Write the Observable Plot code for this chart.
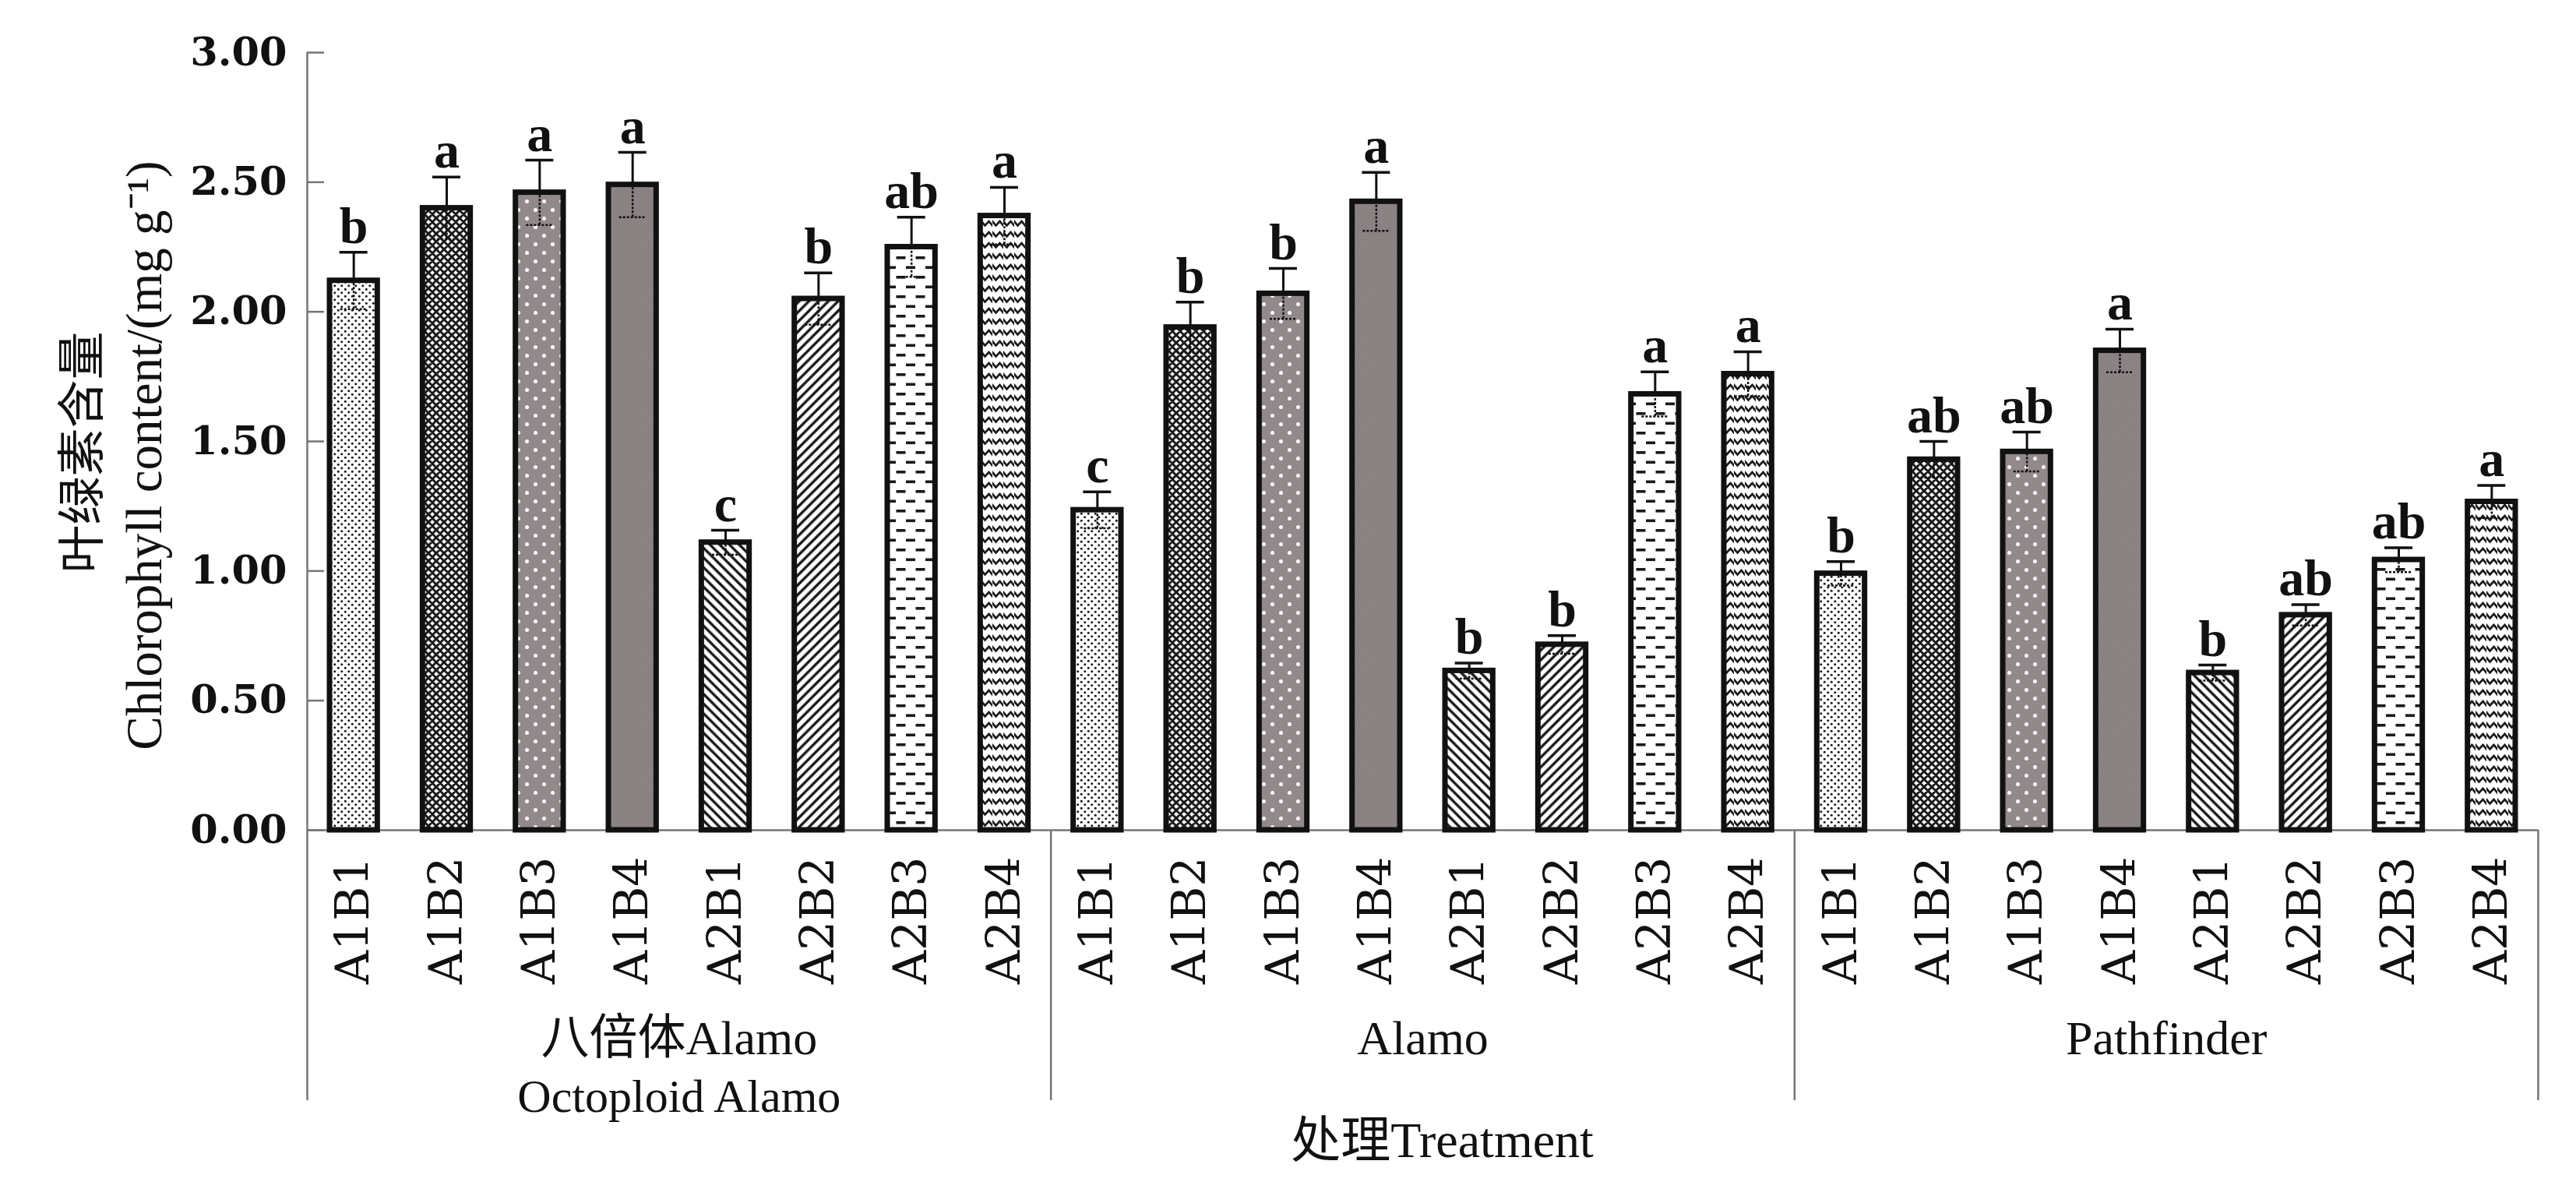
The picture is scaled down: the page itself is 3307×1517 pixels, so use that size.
<!DOCTYPE html>
<html>
<head>
<meta charset="utf-8">
<script src="https://cdn.jsdelivr.net/npm/d3@7"></script>
<script src="https://cdn.jsdelivr.net/npm/@observablehq/plot@0.6"></script>
<style>
  html, body { margin: 0; padding: 0; background: #fff; }
  #chart { width: 3307px; height: 1517px; }
</style>
</head>
<body>
<svg width="0" height="0" style="position:absolute">
  <defs>
    <pattern id="pat0" patternUnits="userSpaceOnUse" width="9" height="9">
      <rect width="9" height="9" fill="#fff"/>
      <circle cx="2.25" cy="2.25" r="1.5" fill="#1a1a1a"/>
      <circle cx="6.75" cy="6.75" r="1.5" fill="#1a1a1a"/>
    </pattern>
    <pattern id="pat1" patternUnits="userSpaceOnUse" width="10" height="10">
      <rect width="10" height="10" fill="#fff"/>
      <path d="M0,0L10,10M10,0L0,10M-2,8L2,12M8,-2L12,2M-2,2L2,-2M8,12L12,8" stroke="#1a1a1a" stroke-width="3"/>
    </pattern>
    <pattern id="pat2" patternUnits="userSpaceOnUse" width="22" height="22">
      <rect width="22" height="22" fill="#928a8a"/>
      <circle cx="5.5" cy="5.5" r="2.5" fill="#fff"/>
      <circle cx="16.5" cy="16.5" r="2.5" fill="#fff"/>
    </pattern>
    <pattern id="pat3" patternUnits="userSpaceOnUse" width="4" height="4">
      <rect width="4" height="4" fill="#928a8a"/>
      <rect width="2" height="2" fill="#837b7b"/>
      <rect x="2" y="2" width="2" height="2" fill="#837b7b"/>
    </pattern>
    <pattern id="pat4" patternUnits="userSpaceOnUse" width="12.5" height="12.5">
      <rect width="12.5" height="12.5" fill="#fff"/>
      <path d="M0,0L12.5,12.5M-6.25,6.25L6.25,18.75M6.25,-6.25L18.75,6.25" stroke="#1a1a1a" stroke-width="3.4"/>
    </pattern>
    <pattern id="pat5" patternUnits="userSpaceOnUse" width="12.5" height="12.5">
      <rect width="12.5" height="12.5" fill="#fff"/>
      <path d="M0,12.5L12.5,0M-6.25,6.25L6.25,-6.25M6.25,18.75L18.75,6.25" stroke="#1a1a1a" stroke-width="3.4"/>
    </pattern>
    <pattern id="pat6" patternUnits="userSpaceOnUse" width="25" height="25">
      <rect width="25" height="25" fill="#fff"/>
      <rect x="0.5" y="4" width="12" height="3.6" fill="#1a1a1a"/>
      <rect x="13" y="16.5" width="12" height="3.6" fill="#1a1a1a"/>
    </pattern>
    <pattern id="pat7" patternUnits="userSpaceOnUse" width="14" height="14">
      <rect width="14" height="14" fill="#fff"/>
      <path d="M-1,3L0,4L4.5,9.5L9.5,4L14,9.5L15,8.4" fill="none" stroke="#1a1a1a" stroke-width="2.7"/>
    </pattern>
  </defs>
</svg>
<div id="chart"></div>
<script>
// ---- data ----
const groups = ["八倍体Alamo", "Alamo", "Pathfinder"];
const groupSubtitles = ["Octoploid Alamo", "", ""];
const treatments = ["A1B1", "A1B2", "A1B3", "A1B4", "A2B1", "A2B2", "A2B3", "A2B4"];

const octoValues = [2.12, 2.40, 2.46, 2.49, 1.11, 2.05, 2.25, 2.37];
const octoErrors = [0.11, 0.12, 0.125, 0.125, 0.047, 0.10, 0.115, 0.11];
const octoLetters = ["b", "a", "a", "a", "c", "b", "ab", "a"];

const alamoValues = [1.235, 1.94, 2.07, 2.425, 0.615, 0.716, 1.682, 1.76];
const alamoErrors = [0.07, 0.097, 0.097, 0.113, 0.03, 0.035, 0.086, 0.086];
const alamoLetters = ["c", "b", "b", "a", "b", "b", "a", "a"];

const pathValues = [0.99, 1.43, 1.46, 1.85, 0.607, 0.83, 1.043, 1.267];
const pathErrors = [0.046, 0.07, 0.076, 0.083, 0.03, 0.04, 0.047, 0.063];
const pathLetters = ["b", "ab", "ab", "a", "b", "ab", "ab", "a"];

const yTicks = [0, 0.5, 1.0, 1.5, 2.0, 2.5, 3.0];
const yLabelCN = "叶绿素含量";
const yLabelEN = "Chlorophyll content/(mg g⁻¹)";
const xLabel = "处理Treatment";

// ---- build table ----
const valueSets = [octoValues, alamoValues, pathValues];
const errorSets = [octoErrors, alamoErrors, pathErrors];
const letterSets = [octoLetters, alamoLetters, pathLetters];
const nT = treatments.length;
const rows = [];
groups.forEach((g, gi) => {
  treatments.forEach((t, ti) => {
    rows.push({
      pos: gi * nT + ti,
      group: g,
      treatment: t,
      value: valueSets[gi][ti],
      err: errorSets[gi][ti],
      letter: letterSets[gi][ti],
      pattern: `url(#pat${ti})`
    });
  });
});
const groupRows = groups.map((g, gi) => ({center: gi * nT + nT / 2, l1: g, l2: groupSubtitles[gi]}));
const separators = d3.range(1, groups.length + 1).map(i => i * nT);

const axisColor = "#7a7373";
const serif = "'Liberation Serif', 'Noto Sans CJK SC', serif";
const wide = "'DejaVu Serif', serif";

const chart = Plot.plot({
  width: 3307,
  height: 1517,
  marginLeft: 394,
  marginRight: 49,
  marginTop: 67,
  marginBottom: 452,
  x: {domain: [0, groups.length * nT], axis: null},
  y: {domain: [0, 3], axis: null},
  color: {type: "identity"},
  style: {background: "white", overflow: "visible", color: "#111"},
  marks: [
    // left axis line (runs down into the group label area)
    Plot.ruleX([0], {stroke: axisColor, strokeWidth: 2.5, insetBottom: -347}),
    // group separators below the baseline
    Plot.ruleX(separators, {x: d => d, stroke: axisColor, strokeWidth: 2.5, insetTop: 998, insetBottom: -347}),
    // baseline
    Plot.ruleY([0], {stroke: axisColor, strokeWidth: 2.5}),
    // inward y ticks
    Plot.ruleY(yTicks, {y: d => d, x1: 0, x2: 0, insetRight: -22, stroke: axisColor, strokeWidth: 2.5}),
    Plot.text(yTicks, {x: 0, y: d => d, text: d => d.toFixed(2), textAnchor: "end", dx: -26,
      fontFamily: wide, fontWeight: "bold", fontSize: 51, fill: "#111"}),
    // bars
    Plot.rect(rows, {x1: "pos", x2: d => d.pos + 1, y1: 0, y2: "value", insetLeft: 29, insetRight: 29,
      fill: "pattern", stroke: "#111", strokeWidth: 7}),
    // lower half of error bars (seen through the fill)
    Plot.ruleX(rows, {x: d => d.pos + 0.5, y1: d => d.value - d.err, y2: "value",
      stroke: "#111", strokeWidth: 2.5, strokeDasharray: "3,2"}),
    Plot.ruleY(rows, {y: d => d.value - d.err, x1: d => d.pos + 0.5, x2: d => d.pos + 0.5,
      insetLeft: -17, insetRight: -17, stroke: "#111", strokeWidth: 2.5, strokeDasharray: "3,2"}),
    // upper half of error bars
    Plot.ruleX(rows, {x: d => d.pos + 0.5, y1: "value", y2: d => d.value + d.err, stroke: "#111", strokeWidth: 3}),
    Plot.ruleY(rows, {y: d => d.value + d.err, x1: d => d.pos + 0.5, x2: d => d.pos + 0.5,
      insetLeft: -18, insetRight: -18, stroke: "#111", strokeWidth: 3.5}),
    // significance letters
    Plot.text(rows, {x: d => d.pos + 0.5, y: d => d.value + d.err, text: "letter", lineAnchor: "bottom", dy: -12,
      fontFamily: serif, fontWeight: "bold", fontSize: 66, fill: "#111"}),
    // treatment tick labels
    Plot.text(rows, {x: d => d.pos + 0.5, y: 0, text: "treatment", rotate: -90, textAnchor: "end", lineAnchor: "middle",
      dy: 34, fontFamily: wide, fontSize: 60, fill: "#111"}),
    // group labels
    Plot.text(groupRows, {x: "center", y: 0, text: "l1", dy: 268, lineAnchor: "middle",
      fontFamily: serif, fontSize: 62, fill: "#111"}),
    Plot.text(groupRows, {x: "center", y: 0, text: "l2", dy: 342, lineAnchor: "middle",
      fontFamily: serif, fontSize: 60, fill: "#111"}),
    // x title
    Plot.text([xLabel], {frameAnchor: "bottom", text: d => d, dy: 399, dx: 25, lineAnchor: "middle",
      fontFamily: serif, fontSize: 64, fill: "#111"}),
    // y title (two lines)
    Plot.text([yLabelCN], {frameAnchor: "left", text: d => d, rotate: -90, textAnchor: "middle", dx: -287, dy: 14,
      lineAnchor: "middle", fontFamily: serif, fontSize: 62, fill: "#111"}),
    Plot.text([yLabelEN], {frameAnchor: "left", text: d => d, rotate: -90, textAnchor: "middle", dx: -208, dy: 18,
      lineAnchor: "middle", fontFamily: serif, fontSize: 65, fill: "#111"})
  ]
});
document.getElementById("chart").appendChild(chart);
</script>
</body>
</html>
